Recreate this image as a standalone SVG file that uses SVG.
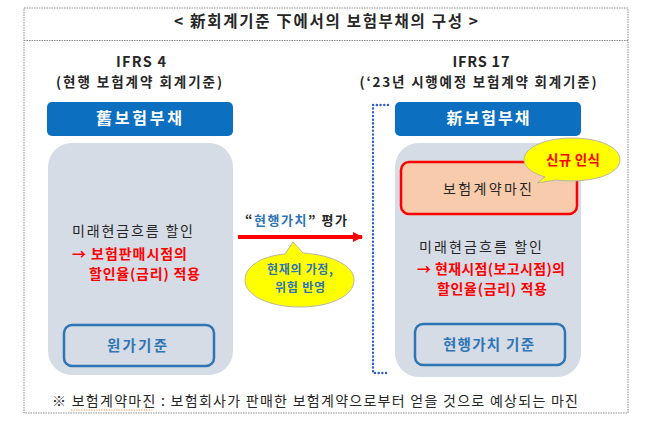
<svg xmlns="http://www.w3.org/2000/svg" width="658" height="423" viewBox="0 0 658 423">
<style>
text{font-family:"Noto Sans CJK KR","Noto Sans",sans-serif;}
.b{font-weight:bold;}
.frame{fill:none;stroke:#8c8c8c;stroke-width:1;stroke-dasharray:1.5 1;}
.bar{fill:#0c6fc0;}
.bartxt{fill:#ffffff;font-size:16px;font-weight:bold;text-anchor:middle;}
.panel{fill:#d6dce5;}
.basis{fill:none;stroke:#2e75b6;stroke-width:2.5;}
.basistxt{fill:#2e75b6;font-size:14.5px;font-weight:bold;text-anchor:middle;}
.dark{fill:#262626;}
.red{fill:#ff0000;font-weight:bold;}
.callout{fill:#ffff00;stroke:#b8b8a0;stroke-width:1;}
</style>
<defs>
<marker id="ah" viewBox="0 0 10 10" refX="9" refY="5" markerWidth="2.6" markerHeight="2.6" orient="auto">
<path d="M0,0 L10,5 L0,10 z" fill="#ff0000"/>
</marker>
</defs>
<rect width="658" height="423" fill="#ffffff"/>
<g id="frame">
<rect class="frame" x="24" y="8" width="604" height="405"/>
<line class="frame" x1="24" y1="40.5" x2="628" y2="40.5"/>
<text x="326" y="27" class="b dark" font-size="15.5" text-anchor="middle" textLength="304" lengthAdjust="spacing">&lt; 新회계기준 下에서의 보험부채의 구성 &gt;</text>
</g>
<g id="ifrs4">
<text x="141" y="67" class="b dark" font-size="14.5" text-anchor="middle" textLength="50" lengthAdjust="spacing">IFRS 4</text>
<text x="139" y="87" class="b dark" font-size="13.5" text-anchor="middle" textLength="166" lengthAdjust="spacing">(현행 보험계약 회계기준)</text>
<rect class="bar" x="47" y="102" width="186" height="34" rx="5"/>
<text class="bartxt" x="139" y="124" textLength="86" lengthAdjust="spacing">舊보험부채</text>
<rect class="panel" x="48" y="143" width="185" height="232" rx="24"/>
<text x="72" y="236" class="dark" font-size="14" textLength="121" lengthAdjust="spacing">미래현금흐름 할인</text>
<text x="72" y="259" class="red" font-size="14" textLength="115" lengthAdjust="spacing">→ 보험판매시점의</text>
<text x="89" y="279" class="red" font-size="14" textLength="111" lengthAdjust="spacing">할인율(금리) 적용</text>
<rect class="basis" x="64" y="325" width="150" height="41" rx="8"/>
<text class="basistxt" x="137" y="351" textLength="60" lengthAdjust="spacing">원가기준</text>
</g>
<g id="connectors">
<line x1="238" y1="237" x2="362" y2="237" stroke="#ff0000" stroke-width="4" marker-end="url(#ah)"/>
<text x="245" y="225" font-size="13" class="b" textLength="102" lengthAdjust="spacing"><tspan fill="#262626">“</tspan><tspan fill="#2e75b6">현행가치</tspan><tspan fill="#262626">” 평가</tspan></text>
<path d="M388,105 L373,105 L373,373 L388,373" fill="none" stroke="#2f5fcf" stroke-width="2.4" stroke-dasharray="0.1 3.6" stroke-linecap="round"/>
</g>
<g id="callout-current">
<path class="callout" d="M285,254 L293,242 L303,253 C 333,255 354,266 354,280 C 354,296 330,307 300,307 C 270,307 245,296 245,280 C 245,266 262,256 285,254 Z"/>
<text x="300" y="274" class="b" fill="#2e75b6" font-size="12" text-anchor="middle" textLength="66" lengthAdjust="spacing">현재의 가정,</text>
<text x="300" y="292" class="b" fill="#2e75b6" font-size="12" text-anchor="middle" textLength="50" lengthAdjust="spacing">위험 반영</text>
</g>
<g id="ifrs17">
<text x="481" y="67" class="b dark" font-size="14.5" text-anchor="middle" textLength="57" lengthAdjust="spacing">IFRS 17</text>
<text x="478" y="87" class="b dark" font-size="13.5" text-anchor="middle" textLength="237" lengthAdjust="spacing">(‘23년 시행예정 보험계약 회계기준)</text>
<rect class="bar" x="395" y="102" width="186" height="34" rx="5"/>
<text class="bartxt" x="488" y="124" textLength="83" lengthAdjust="spacing">新보험부채</text>
<rect class="panel" x="395" y="143" width="186" height="234" rx="24"/>
<rect x="401" y="162" width="176" height="52" rx="8" fill="#f8cbad" stroke="#ff0000" stroke-width="2.5"/>
<text x="487.5" y="194" class="dark" font-size="14" text-anchor="middle" textLength="89" lengthAdjust="spacing">보험계약마진</text>
<text x="419" y="252" class="dark" font-size="14" textLength="123" lengthAdjust="spacing">미래현금흐름 할인</text>
<text x="417" y="274" class="red" font-size="14" textLength="148" lengthAdjust="spacing">→ 현재시점(보고시점)의</text>
<text x="437" y="294" class="red" font-size="14" textLength="110" lengthAdjust="spacing">할인율(금리) 적용</text>
<rect class="basis" x="415" y="324" width="150" height="41" rx="8"/>
<text class="basistxt" x="488.5" y="350" textLength="91" lengthAdjust="spacing">현행가치 기준</text>
</g>
<g id="callout-new">
<path class="callout" d="M545,177 L537,183 L556,180 C 592,184 620,174 620,160 C 620,147 599,138 572,138 C 546,138 524,147 524,160 C 524,167 532,173 545,177 Z"/>
<text x="573" y="165" class="red" font-size="13.5" text-anchor="middle" textLength="54" lengthAdjust="spacing">신규 인식</text>
</g>
<g id="footnote">
<text x="52" y="406" class="dark" font-size="14" textLength="526" lengthAdjust="spacing">※ 보험계약마진 : 보험회사가 판매한 보험계약으로부터 얻을 것으로 예상되는 마진</text>
<line x1="71" y1="410" x2="153" y2="410" stroke="#f4a460" stroke-width="1" stroke-dasharray="1.5 1"/>
</g>
</svg>
